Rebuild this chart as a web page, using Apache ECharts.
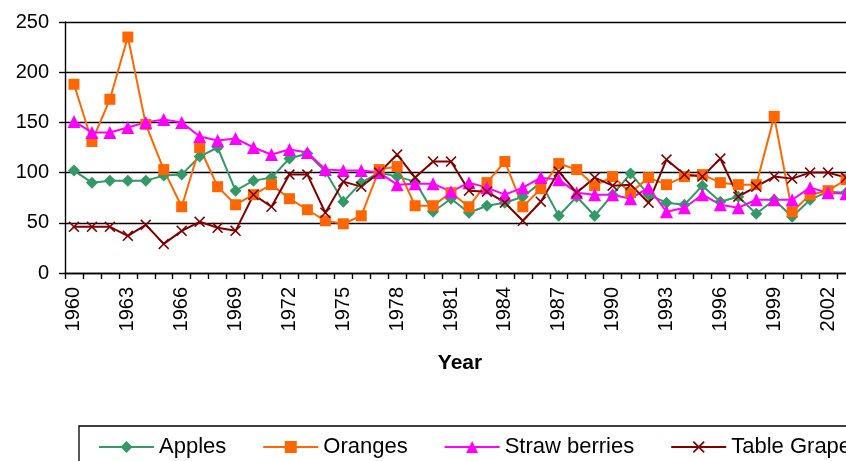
<!DOCTYPE html>
<html>
<head>
<meta charset="utf-8">
<script src="https://cdn.jsdelivr.net/npm/echarts@6/dist/echarts.min.js"></script>
<style>
html,body{margin:0;padding:0;background:#fff;overflow:hidden;}
#chart{width:846px;height:461px;}
</style>
</head>
<body>
<div id="chart"></div>
<script>
const years = ['1960','1961','1962','1963','1964','1965','1966','1967','1968','1969',
  '1970','1971','1972','1973','1974','1975','1976','1977','1978','1979',
  '1980','1981','1982','1983','1984','1985','1986','1987','1988','1989',
  '1990','1991','1992','1993','1994','1995','1996','1997','1998','1999',
  '2000','2001','2002','2003'];
const apples = [102,90,92,92,92,97,98,116,125,82,
  92,95,114,119,101,71,90,100,96,91,
  61,74,60,67,70,76,90,57,76,57,
  78,99,78,70,68,87,71,76,59,73,
  56,73,81,80];
const oranges = [188,131,173,235,148,103,66,125,86,68,
  78,88,74,63,52,49,57,103,106,67,
  67,80,66,90,111,66,84,109,103,87,
  96,80,95,88,96,98,90,88,88,156,
  61,78,82,93];
const strawberries = [151,140,140,145,150,153,150,136,132,134,
  125,118,123,120,103,102,102,100,88,89,
  89,81,90,85,78,85,95,93,80,78,
  78,74,85,61,65,78,68,65,73,73,
  73,85,80,79];
const grapes = [46,46,46,37,48,29,42,51,45,42,
  78,66,98,98,60,91,86,100,118,95,
  111,111,82,81,70,52,71,101,80,95,
  87,88,70,113,98,96,114,76,86,96,
  94,100,100,95];
const yTicks = {min:0, max:250, interval:50};

const FONT = "'Liberation Sans', Arial, sans-serif";
const xPath = 'path://M0,1L1,0L5,4L9,0L10,1L6,5L10,9L9,10L5,6L1,10L0,9L4,5Z';

const chart = echarts.init(document.getElementById('chart'), null, {renderer:'canvas'});
function mk(name, data, color, symbol, size){
  return {name, type:'line', data, symbol, symbolSize:size, showAllSymbol:true,
    itemStyle:{color, borderWidth:0}, lineStyle:{color, width:2}, emphasis:{disabled:true}, animation:false};
}
chart.setOption({
  animation:false,
  backgroundColor:'#fff',
  textStyle:{fontFamily:FONT},
  grid:{left:65, top:22, width:790, height:251, containLabel:false, outerBoundsMode:'none'},
  xAxis:{
    type:'category', data:years, boundaryGap:true,
    name:'Year', nameLocation:'middle', nameGap:80,
    nameTextStyle:{fontFamily:FONT, fontSize:21, fontWeight:'bold', color:'#000'},
    axisLine:{lineStyle:{color:'#000', width:1.4}},
    axisTick:{show:true, interval:0, length:6, lineStyle:{color:'#000', width:1.4}},
    axisLabel:{interval:2, rotate:90, fontSize:20, color:'#000', fontFamily:FONT, margin:14},
    splitLine:{show:false}
  },
  yAxis:{
    type:'value', min:yTicks.min, max:yTicks.max, interval:yTicks.interval,
    axisLine:{show:true, lineStyle:{color:'#000', width:1.4}},
    axisTick:{show:true, length:6, lineStyle:{color:'#000', width:1.4}},
    axisLabel:{fontSize:20, color:'#000', fontFamily:FONT, margin:16},
    splitLine:{show:true, lineStyle:{color:'#000', width:1.4}}
  },
  legend:{
    left:79, top:426, width:1200,
    orient:'horizontal',
    itemWidth:55, itemHeight:15, itemGap:36,
    padding:[10,60,14,19],
    borderColor:'#000', borderWidth:1.3,
    textStyle:{fontSize:22, color:'#000', fontFamily:FONT},
    data:['Apples','Oranges','Straw berries','Table Grapes']
  },
  series:[
    mk('Apples', apples, '#339966', 'diamond', 12),
    mk('Oranges', oranges, '#FF6600', 'rect', 11),
    mk('Straw berries', strawberries, '#FF00FF', 'triangle', 13),
    mk('Table Grapes', grapes, '#800000', xPath, 11)
  ]
});
</script>
</body>
</html>
